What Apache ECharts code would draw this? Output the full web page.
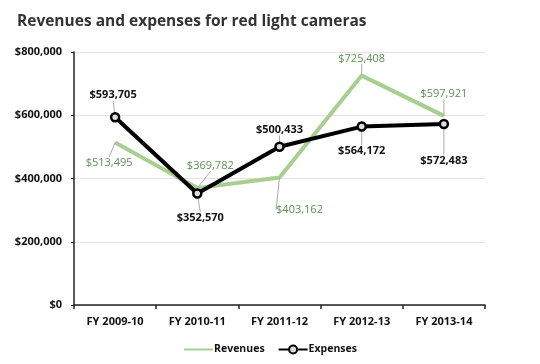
<!DOCTYPE html>
<html><head><meta charset="utf-8">
<script src="https://cdn.jsdelivr.net/npm/echarts@6/dist/echarts.min.js"></script>
<style>html,body{margin:0;padding:0;background:#fff}#c{width:540px;height:364px}</style>
</head><body><div id="c"></div>
<script>
var categories = ['FY 2009-10','FY 2010-11','FY 2011-12','FY 2012-13','FY 2013-14'];
var revenues = [513495, 369782, 403162, 725408, 597921];
var expenses = [593705, 352570, 500433, 564172, 572483];
var yTicks = [0, 200000, 400000, 600000, 800000];

var revOffsets = [[-6,20],[13,-22],[20,32],[0,-17],[0,-22]];
var expOffsets = [[-2,-22],[3,24],[0,-17],[0,24],[0,37]];
function fmt(v){ return '$' + v.toLocaleString('en-US'); }

var chart = echarts.init(document.getElementById('c'));
var FONT = '"Open Sans"';
chart.setOption({
  animation: false,
  title: { text: 'Revenues and expenses for red light cameras', left: 12, top: 9,
    textStyle: { fontFamily: FONT, fontWeight: 'bold', fontSize: 15.5, color: '#333' } },
  grid: { left: 74, right: 55, top: 52, bottom: 59 },
  legend: { bottom: 4, left: 'center', itemWidth: 29, itemHeight: 10, itemGap: 13,
    textStyle: { fontFamily: FONT, fontWeight: 'bold', fontSize: 10.5, color: '#111', padding: [0,0,0,-4] },
    data: [{ name: 'Revenues', itemStyle: { opacity: 0 } }, 'Expenses'] },
  xAxis: { type: 'category', data: categories, boundaryGap: true,
    axisLine: { lineStyle: { color: '#222', width: 1.5 } },
    axisTick: { show: true, length: 4, lineStyle: { color: '#222', width: 1.5 } },
    axisLabel: { fontFamily: FONT, fontWeight: 'bold', fontSize: 11, color: '#111', margin: 11 } },
  yAxis: { type: 'value', min: yTicks[0], max: yTicks[yTicks.length-1], interval: yTicks[1]-yTicks[0],
    axisLine: { show: true, lineStyle: { color: '#222', width: 1.5 } },
    axisTick: { show: true, length: 3, lineStyle: { color: '#222' } },
    splitLine: { lineStyle: { color: '#e2e2e2' } },
    axisLabel: { fontFamily: FONT, fontWeight: 'bold', fontSize: 11, color: '#111', margin: 12,
      formatter: function(v){ return fmt(v); } } },
  series: [
    { name: 'Revenues', type: 'line', data: revenues, symbol: 'circle', symbolSize: 0.01, showSymbol: true,
      lineStyle: { color: '#a8cf90', width: 4 }, itemStyle: { color: '#a8cf90' },
      label: { show: true, fontFamily: FONT, fontSize: 11, color: '#5e8f52', position: 'inside',
        formatter: function(p){ return fmt(p.value); } },
      labelLine: { show: true, lineStyle: { color: '#aaa', width: 1 } },
      labelLayout: function(p){ var o = revOffsets[p.dataIndex]; return { dx: o[0], dy: o[1] }; },
      z: 2 },
    { name: 'Expenses', type: 'line', data: expenses, symbol: 'circle', symbolSize: 8,
      lineStyle: { color: '#000', width: 4 },
      itemStyle: { color: '#ddd', borderColor: '#000', borderWidth: 2.5 },
      label: { show: true, fontFamily: FONT, fontWeight: 'bold', fontSize: 11, color: '#111', position: 'inside',
        formatter: function(p){ return fmt(p.value); } },
      labelLine: { show: true, lineStyle: { color: '#aaa', width: 1 } },
      labelLayout: function(p){ var o = expOffsets[p.dataIndex]; return { dx: o[0], dy: o[1] }; },
      z: 3 }
  ]
});
</script></body></html>
